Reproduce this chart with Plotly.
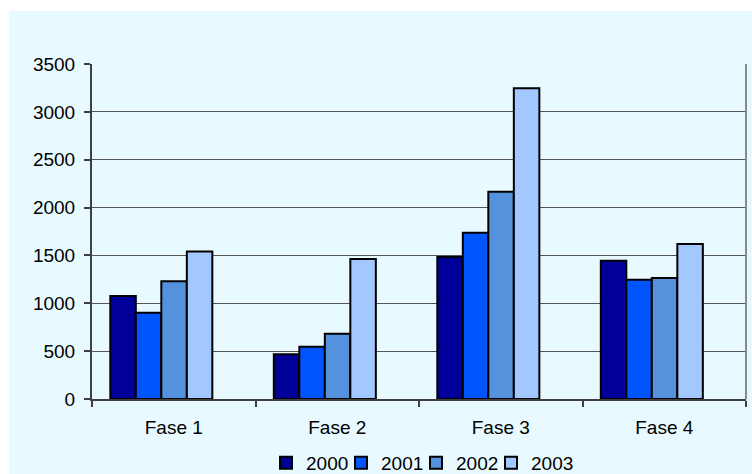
import plotly.graph_objects as go

categories = ["Fase 1", "Fase 2", "Fase 3", "Fase 4"]
series_names = ["2000", "2001", "2002", "2003"]
v2000 = [1075, 467, 1484, 1445]
v2001 = [900, 547, 1738, 1247]
v2002 = [1230, 683, 2166, 1264]
v2003 = [1540, 1463, 3246, 1620]
values = [v2000, v2001, v2002, v2003]
colors = ["#000099", "#0055FF", "#5592DD", "#A2C8FF"]
y_ticks = [0, 500, 1000, 1500, 2000, 2500, 3000, 3500]

W, H = 752, 474
L, R, T, B = 92, 6, 64, 75
pw, ph = W - L - R, H - T - B

BAR_W = 0.156          # bar width in category units
GROUP_START = -0.388   # left edge of first bar relative to category centre

fig = go.Figure()
for i, (name, vals, col) in enumerate(zip(series_names, values, colors)):
    fig.add_trace(go.Bar(
        x=categories, y=vals, name=name,
        width=BAR_W, offset=GROUP_START + i * BAR_W,
        marker=dict(color=col, line=dict(color="#000000", width=2)),
    ))

# invisible spacer legend entry so the last legend label is not clipped
fig.add_trace(go.Scatter(
    x=[None], y=[None], mode="markers", name="\u00a0",
    marker=dict(opacity=0, size=1), hoverinfo="skip", showlegend=True,
))

FONT = "Liberation Sans, Arial, sans-serif"

def px_x(p):
    return (p - L) / pw

def px_y(p):
    return (H - B - p) / ph

fig.update_layout(
    width=W, height=H,
    margin=dict(l=L, r=R, t=T, b=B, pad=0, autoexpand=False),
    paper_bgcolor="#FFFFFF",
    plot_bgcolor="rgba(0,0,0,0)",
    barmode="overlay",
    font=dict(family=FONT, size=19, color="#000000"),
    showlegend=True,
    legend=dict(
        orientation="h", x=px_x(266), xanchor="left", y=px_y(463), yanchor="middle",
        font=dict(family=FONT, size=19, color="#000000"),
        bgcolor="rgba(0,0,0,0)", itemwidth=30, tracegroupgap=0,
        entrywidth=30, entrywidthmode="pixels", traceorder="normal",
    ),
    shapes=[
        dict(type="rect", xref="paper", yref="paper", layer="below",
             x0=px_x(9), x1=px_x(760), y0=px_y(11), y1=px_y(480),
             fillcolor="#E8FAFF", line=dict(width=0)),
        dict(type="line", xref="paper", yref="paper", layer="above",
             x0=1, x1=1, y0=0, y1=1, line=dict(color="#8A8A8A", width=2)),
    ],
    xaxis=dict(
        type="category", tickson="boundaries", ticks="outside", ticklen=6,
        tickcolor="#404040", tickwidth=1.5,
        showline=True, linecolor="#404040", linewidth=1.5,
        showgrid=False, ticklabelstandoff=10, range=[-0.5, 3.5],
        tickfont=dict(family=FONT, size=19, color="#000000"),
    ),
    yaxis=dict(
        range=[0, 3500], tickvals=y_ticks, ticks="outside", ticklen=6,
        tickcolor="#404040", tickwidth=1.5,
        showline=True, linecolor="#404040", linewidth=2,
        showgrid=True, gridcolor="#555555", gridwidth=1.3,
        zeroline=False, ticklabelstandoff=5,
        tickfont=dict(family=FONT, size=19, color="#000000"),
    ),
)

fig.write_html(
    "out.html",
    config={"displayModeBar": False},
    post_script="document.body.style.margin='0';document.body.style.padding='0';",
)
